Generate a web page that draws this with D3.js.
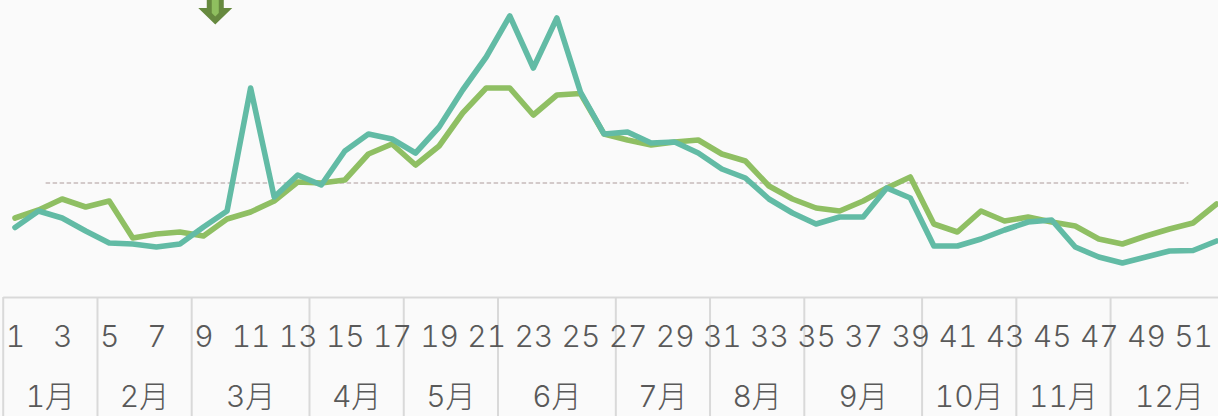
<!DOCTYPE html>
<html><head><meta charset="utf-8">
<script src="https://cdn.jsdelivr.net/npm/d3@7"></script>
<style>html,body{margin:0;padding:0;background:#fafafa;overflow:hidden}svg{display:block}text{font-family:Inter,"Noto Sans CJK JP",sans-serif;fill:#595959;font-weight:300;font-variant-numeric:tabular-nums;font-feature-settings:"tnum" 1}</style>
</head><body><div id="c"></div>
<script>
const weeks = d3.range(1, 53);
const weekTicks = weeks.filter(w => w % 2 === 1);
const months = ["1月","2月","3月","4月","5月","6月","7月","8月","9月","10月","11月","12月"];
const monthEnds = [4,8,13,17,21,26,30,34,39,43,47,52];
const greenValues = [79,87,98,90,96,59,63,65,61,78,85,96,115,114,117,143,153,132,151,184,209,209,182,202,203.5,163,157,152,155,157,143,136,111,98,89,86,96,109,120,73,65,86,76,80,75,71,58,53,61,68,74,93];
const tealValues = [69.5,86,79,66,54,53,50,53,70,86,209,100,122,112,146,163,158,144,170,207,240,281,229,279,205,163,165,154,155,144,128,119,98,84,73,80,80,109,99,51,51,58,67,75,77,50,40,34,40,46,46.5,56];
const referenceValue = 114;
const arrowWeek = 9.5;

const W = 1218, H = 416, axisY = 297;
const x = d3.scaleLinear().domain([1, 52]).range([15, 1216.6]);
const y = d3.scaleLinear().domain([0, 297]).range([axisY, 0]);
const svg = d3.select("#c").append("svg").attr("width", W).attr("height", H);
svg.append("rect").attr("width", W).attr("height", H).attr("fill", "#fafafa");

// reference
svg.append("line").attr("x1", x(2.3)).attr("x2", x(50.8)).attr("y1", y(referenceValue)).attr("y2", y(referenceValue))
  .attr("stroke", "#c6baba").attr("stroke-width", 1.7).attr("stroke-dasharray", "4.5 2.5");

// lines
const line = d3.line().x((d, i) => x(weeks[i])).y(d => y(d));
[[greenValues, "#8fbf63"], [tealValues, "#62bba5"]].forEach(([v, c]) => {
  svg.append("path").attr("d", line(v)).attr("fill", "none").attr("stroke", c)
    .attr("stroke-width", 5.6).attr("stroke-linejoin", "round").attr("stroke-linecap", "round");
});

// arrow marker
const ax = x(arrowWeek);
svg.append("path").attr("d", `M${ax-8.5},0V8H${ax-17}L${ax},24.5L${ax+17},8H${ax+8.5}V0Z`).attr("fill", "#66893f");
svg.append("path").attr("d", `M${ax-3.5},0V13L${ax},16.5L${ax+3.5},13V0Z`).attr("fill", "#8fbf5f");

// axis frame
const edge = w => x(w + 0.5);
svg.append("line").attr("x1", x(0.5)).attr("x2", W).attr("y1", axisY + .5).attr("y2", axisY + .5)
  .attr("stroke", "#d9d9d9").attr("stroke-width", 2);
const seps = [0].concat(monthEnds.slice(0, -1));
svg.selectAll(".sep").data(seps).join("line").attr("class", "sep")
  .attr("x1", d => edge(d)).attr("x2", d => edge(d)).attr("y1", axisY).attr("y2", H)
  .attr("stroke", "#d9d9d9").attr("stroke-width", 2);

// week axis
const axis = d3.axisBottom(x).tickValues(weekTicks).tickSize(0).tickPadding(0).tickFormat(d3.format("d"));
const g = svg.append("g").attr("transform", `translate(0,${axisY})`).call(axis);
g.select(".domain").remove();
g.selectAll("text").attr("y", 50).attr("dy", 0).attr("font-size", 30).attr("fill", "#595959")
  .style("font-family", 'Inter,"Noto Sans CJK JP"');

// months
svg.selectAll(".m").data(months).join("text").attr("class", "m")
  .attr("x", (d, i) => (edge(seps[i]) + (i === 11 ? x(52.5) : edge(monthEnds[i]))) / 2)
  .attr("y", 407).attr("text-anchor", "middle").attr("font-size", 30).text(d => d);
</script></body></html>
